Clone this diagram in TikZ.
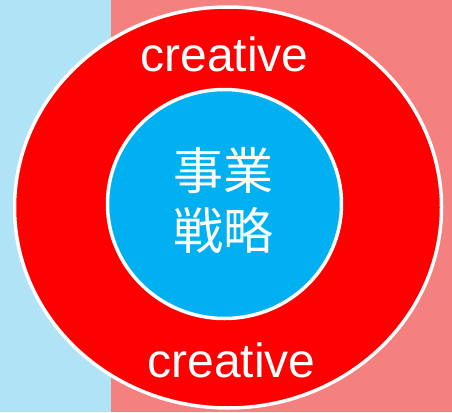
\documentclass[tikz,border=0pt]{standalone}
\usepackage{fontspec}
\setmainfont{Liberation Sans}
\newfontfamily\jpfont{Noto Sans CJK JP}
\usepackage{tikz}
\usetikzlibrary{shapes.geometric}
\definecolor{paleblue}{RGB}{176,227,246}
\definecolor{salmon}{RGB}{244,128,128}
\definecolor{ringred}{RGB}{254,0,0}
\definecolor{corecyan}{RGB}{0,176,240}

\begin{document}
\begin{tikzpicture}[x=1pt,y=-1pt,
  ring/.style={ellipse,draw=white,line width=3.5pt,inner sep=0pt},
  word/.style={text=white,font=\fontsize{48}{48}\selectfont,anchor=base,inner sep=0pt}]
\useasboundingbox (0,0) rectangle (452,412);
\fill[paleblue] (0,0) rectangle (111,412);
\fill[salmon] (111,0) rectangle (452,412);
\node[ring,fill=ringred,minimum width=427pt,minimum height=401pt] (outer) at (228,207.5) {};
\node[ring,fill=corecyan,minimum width=234pt,minimum height=229pt] (core) at (224.5,204) {};
\node[word] (top) at (224.5,71) {creative};
\node[word] (bottom) at (231.5,377) {creative};
\node[text=white,align=center,inner sep=0pt,
  font=\jpfont\fontsize{50}{60}\selectfont] (strategy) at (223.5,200) {事業\\戦略};
\end{tikzpicture}
\end{document}
